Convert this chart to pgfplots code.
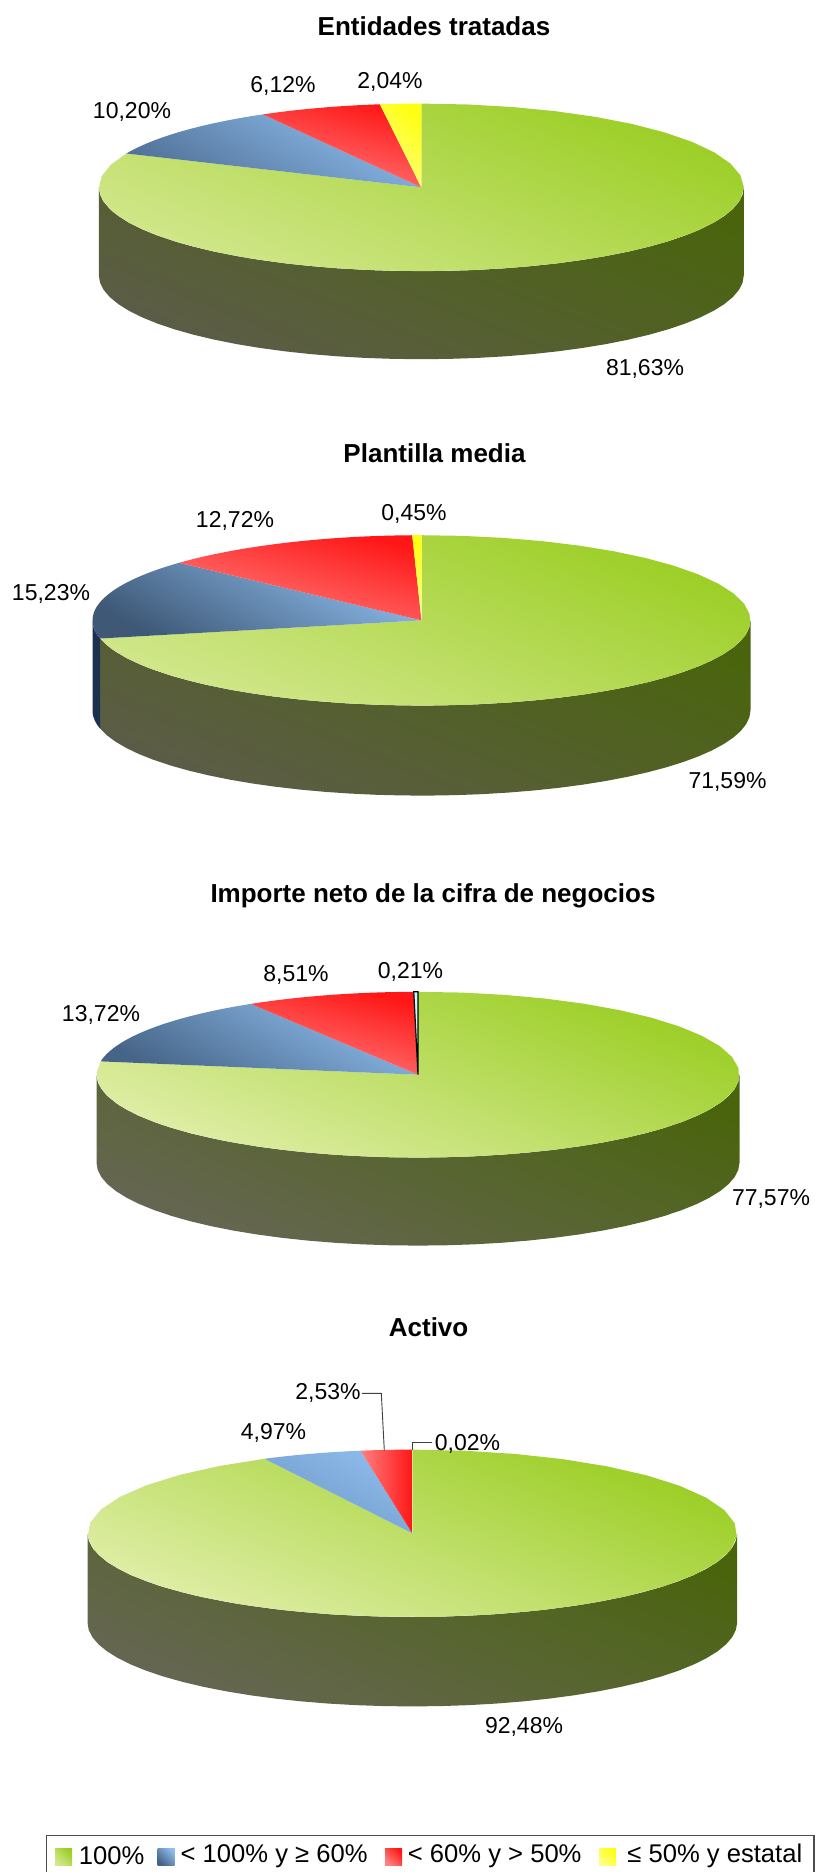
\documentclass[border=0pt]{standalone}
\usepackage{pgfplots}
\pgfplotsset{compat=1.18}
\usepackage{fontspec}
\setmainfont{Liberation Sans}
\definecolor{gD}{RGB}{155,206,36}
\definecolor{gL1}{RGB}{210,231,140}
\definecolor{gL3}{RGB}{224,238,168}
\definecolor{wD}{RGB}{74,100,14}
\definecolor{wL1}{RGB}{92,92,72}
\definecolor{wL3}{RGB}{102,102,84}
\definecolor{bT}{RGB}{141,188,236}
\definecolor{bL1}{RGB}{80,112,150}
\definecolor{bL2}{RGB}{62,88,118}
\definecolor{bL3}{RGB}{70,100,135}
\definecolor{bL4}{RGB}{112,152,198}
\definecolor{rT}{RGB}{255,22,22}
\definecolor{rL}{RGB}{255,128,128}
\definecolor{yT}{RGB}{255,255,20}
\definecolor{yL}{RGB}{255,255,130}
\definecolor{nv}{RGB}{28,48,80}
\newcommand\Arc[7]{%
  \pgfplotsforeachungrouped \k in {0,...,36}{%
    \pgfmathsetmacro\th{3.6*(#5+(#6-#5)*\k/36)}%
    \pgfmathsetmacro\xx{#1+#3*sin(\th)}%
    \pgfmathsetmacro\yy{#2-#4*cos(\th)+#7}%
    \xdef\pts{\pts (\xx,\yy)}%
  }}
% cx cy rx ry from to style
\newcommand\Slice[7]{%
  \xdef\pts{(#1,#2)}%
  \Arc{#1}{#2}{#3}{#4}{#5}{#6}{0}%
  \edef\tmp{\noexpand\addplot[draw=none,\unexpanded{#7}] coordinates {\pts} -- cycle;}\tmp}
% cx cy rx ry from to depth style
\newcommand\Wall[8]{%
  \xdef\pts{}%
  \Arc{#1}{#2}{#3}{#4}{#5}{#6}{0}%
  \Arc{#1}{#2}{#3}{#4}{#6}{#5}{#7}%
  \edef\tmp{\noexpand\addplot[draw=none,\unexpanded{#8}] coordinates {\pts} -- cycle;}\tmp}
\tikzset{
  grad/.style n args={2}{bottom color=#1,top color=#2,middle color=#1!50!#2,shading angle=-45},
  gradb/.style n args={2}{bottom color=#1,top color=#2,middle color=#1!50!#2,shading angle=-30},
  gradr/.style n args={2}{bottom color=#1,top color=#2,middle color=#1!50!#2,shading angle=-15},
  gradg/.style n args={2}{bottom color=#1,top color=#2,middle color=#1!50!#2,shading angle=-22},
  lab/.style={font=\fontsize{11.5pt}{13pt}\selectfont,inner sep=0pt},
  ttl/.style={font=\fontsize{13pt}{15pt}\selectfont\bfseries,inner sep=0pt},
  leg/.style={font=\fontsize{12.8pt}{15pt}\selectfont,inner sep=0pt,anchor=west},
}
\begin{document}
\begin{tikzpicture}
\useasboundingbox (0,0) rectangle (407pt,936pt);
\begin{axis}[at={(0,0)},anchor=south west,scale only axis,width=407pt,height=936pt,
  xmin=0,xmax=814,ymin=0,ymax=1872,y dir=reverse,hide axis,clip=false]
% ---- Entidades tratadas: 81,63 10,20 6,12 2,04
\Wall{421.3}{187.4}{322.5}{83.8}{25}{75}{88}{gradg={wL1}{wD}}
\Slice{421.3}{187.4}{322.5}{83.8}{0}{81.63}{gradg={gL1}{gD}}
\Slice{421.3}{187.4}{322.5}{83.8}{81.63}{91.83}{gradb={bL1}{bT}}
\Slice{421.3}{187.4}{322.5}{83.8}{91.83}{97.95}{gradr={rL}{rT}}
\Slice{421.3}{187.4}{322.5}{83.8}{97.95}{100}{grad={yL}{yT}}
\node[ttl] at (434,26.5) {Entidades tratadas};
\node[lab] at (132,112) {10,20\%};
\node[lab] at (283,86) {6,12\%};
\node[lab] at (390,82) {2,04\%};
\node[lab] at (645,369) {81,63\%};
% ---- Plantilla media: 71,59 15,23 12,72 0,45
\Wall{421.5}{620.4}{329}{85.2}{25}{71.59}{90}{gradg={wL1}{wD}}
\Wall{421.5}{620.4}{329}{85.2}{71.59}{75}{90}{grad={nv}{nv}}
\Slice{421.5}{620.4}{329}{85.2}{0}{71.59}{gradg={gL1}{gD}}
\Slice{421.5}{620.4}{329}{85.2}{71.59}{86.82}{gradb={bL2}{bT}}
\Slice{421.5}{620.4}{329}{85.2}{86.82}{99.55}{gradr={rL}{rT}}
\Slice{421.5}{620.4}{329}{85.2}{99.55}{100}{grad={yL}{yT}}
\node[ttl] at (434.5,453) {Plantilla media};
\node[lab] at (51,594) {15,23\%};
\node[lab] at (235,521) {12,72\%};
\node[lab] at (414,514) {0,45\%};
\node[lab] at (727.5,782) {71,59\%};
% ---- Importe neto: 77,57 13,72 8,51 0,21
\Wall{418}{1074.7}{321.5}{82.9}{25}{75}{88}{gradg={wL3}{wD}}
\Slice{418}{1074.7}{321.5}{82.9}{0}{77.57}{gradg={gL3}{gD}}
\Slice{418}{1074.7}{321.5}{82.9}{77.57}{91.29}{gradb={bL3}{bT}}
\Slice{418}{1074.7}{321.5}{82.9}{91.29}{99.79}{gradr={rL}{rT}}
\Slice{418}{1074.7}{321.5}{82.9}{99.79}{100}{draw=black,line width=0.6pt,bottom color=white,top color=cyan!25!white}
\node[ttl] at (433,896) {Importe neto de la cifra de negocios};
\node[lab] at (101,1015) {13,72\%};
\node[lab] at (296,975) {8,51\%};
\node[lab] at (410.5,971.5) {0,21\%};
\node[lab] at (771,1199) {77,57\%};
% ---- Activo: 92,48 4,97 2,53 0,02
\Wall{412.3}{1533.3}{324.8}{83.7}{25}{75}{89.4}{gradg={wL3}{wD}}
\Slice{412.3}{1533.3}{324.8}{83.7}{0}{92.48}{gradg={gL3}{gD}}
\Slice{412.3}{1533.3}{324.8}{83.7}{92.48}{97.45}{gradb={bL4}{bT}}
\Slice{412.3}{1533.3}{324.8}{83.7}{97.45}{100}{left color=rL,right color=rT}
\addplot[draw=black!75,line width=0.45pt] coordinates {(362,1393.3) (381.3,1393.3) (384.3,1450.3)};
\addplot[draw=black!75,line width=0.45pt] coordinates {(432,1442.7) (412.3,1442.7) (412.3,1450)};
\node[ttl] at (428.6,1327) {Activo};
\node[lab] at (328,1393) {2,53\%};
\node[lab] at (273.5,1433) {4,97\%};
\node[lab] at (467.5,1444) {0,02\%};
\node[lab] at (524,1727) {92,48\%};
% ---- legend
\addplot[draw=black!70,line width=0.6pt] coordinates {(46.6,1872) (46.6,1835.7) (814,1835.7) (814,1872)};
\addplot[draw=none,grad={gL1}{gD}] coordinates {(55,1848) (72,1848) (72,1865) (55,1865)} -- cycle;
\addplot[draw=none,grad={bL3}{bT}] coordinates {(157.6,1848) (174.7,1848) (174.7,1865) (157.6,1865)} -- cycle;
\addplot[draw=none,grad={rL}{rT}] coordinates {(385,1848) (402,1848) (402,1865) (385,1865)} -- cycle;
\addplot[draw=none,grad={yL}{yT}] coordinates {(599,1848) (616,1848) (616,1865) (599,1865)} -- cycle;
\node[leg] at (78.5,1856) {100\%};
\node[leg] at (180.3,1856) {< 100\% y ≥ 60\%};
\node[leg] at (407.5,1856) {< 60\% y > 50\%};
\node[leg] at (627,1856) {≤ 50\% y estatal};
\end{axis}
\end{tikzpicture}
\end{document}
